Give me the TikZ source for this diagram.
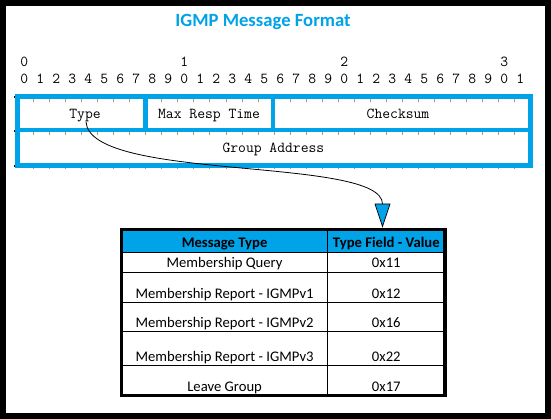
\documentclass[tikz,border=0pt]{standalone}
\usepackage{fontspec}
\setmainfont{Carlito}
\definecolor{igmpblue}{RGB}{0,162,232}
\definecolor{tickcol}{RGB}{190,150,100}
\begin{document}
\begin{tikzpicture}[x=1pt,y=-1pt,
  mono/.style={font=\ttfamily\fontsize{15.2}{17}\selectfont, inner sep=0pt, anchor=base},
  cell/.style={font=\fontsize{14.67}{17}\selectfont, inner sep=0pt, anchor=base},
  headcell/.style={font=\bfseries\fontsize{14.67}{17}\selectfont, inner sep=0pt, anchor=base},
  bluebox/.style={draw=igmpblue, line width=4.7pt},
  bittick/.style={draw=tickcol, line width=1pt},
  gridline/.style={draw=black, line width=1.2pt},
  connector/.style={draw=black, line width=0.8pt}]
\useasboundingbox (0,0) rectangle (551,419);
\fill[white] (0,0) rectangle (551,419);
% outer frame
\draw[line width=6pt] (3,3) rectangle (548,416);
% title
\node[font=\bfseries\fontsize{18.67}{22}\selectfont, text=igmpblue, anchor=base, inner sep=0pt] (title) at (263,27) {IGMP Message Format};
% bit numbers
\node[mono] (dec0) at (24.3,66.7) {0};
\node[mono] (dec1) at (184.3,66.7) {1};
\node[mono] (dec2) at (344.3,66.7) {2};
\node[mono] (dec3) at (504.3,66.7) {3};
\foreach \i in {0,...,31} {
  \pgfmathtruncatemacro\d{mod(\i,10)}
  \node[mono] (bit\i) at (24.3+16*\i,83.3) {\d};
}
% ticks
\foreach \i in {1,...,31} {
  \draw[bittick] (17.5+16.04*\i,99.3) -- ++(0,3);
  \draw[bittick] (17.5+16.04*\i,132.4) -- ++(0,3);
  \draw[bittick] (17.5+16.04*\i,166) -- ++(0,3);
}
\fill (13.5,95.7) rectangle (14.5,97.7);
\fill (13.5,129.7) rectangle (14.5,131.7);
\fill (13.5,165) rectangle (14.5,167);
% header box
\draw[bluebox] (17.5,96.7) rectangle (530.8,165.3);
\draw[bluebox] (17.5,130) -- (530.8,130);
\draw[bluebox] (145.5,96.7) -- (145.5,130);
\draw[bluebox] (273,96.7) -- (273,130);
\node[mono] (type) at (85,118.3) {Type};
\node[mono] (maxresp) at (209,118.3) {Max Resp Time};
\node[mono] (checksum) at (398,118.3) {Checksum};
\node[mono] (group) at (273.4,152.3) {Group Address};
% connector and arrowhead
\coordinate (arrowtop) at (382.5,204);
\draw[connector] ([xshift=1pt]type.south) .. controls (90,182) and (382.5,156) .. (arrowtop);
\filldraw[fill=igmpblue, draw=black, line width=0.7pt] (arrowtop) ++(-7.5,0) -- ++(15,0) -- ++(-7.5,22.5) -- cycle;
% table
\fill[igmpblue] (121.7,229.7) rectangle (445,252.7);
\draw[gridline] (121.7,252.7) -- (445,252.7);
\draw[gridline] (121.7,272.3) -- (445,272.3);
\draw[gridline] (121.7,302.3) -- (445,302.3);
\draw[gridline] (121.7,331.7) -- (445,331.7);
\draw[gridline] (121.7,365.7) -- (445,365.7);
\draw[gridline] (327.5,229.7) -- (327.5,395.7);
\draw[line width=3.3pt] (121.7,229.7) rectangle (445,395.7);
\node[headcell] (hmsg) at (224.6,247.7) {Message Type};
\node[headcell] (hval) at (386.3,247.7) {Type Field - Value};
\node[cell] (m1) at (224.6,268) {Membership Query};
\node[cell] (v1) at (386.3,268) {0x11};
\node[cell] (m2) at (224.6,298.3) {Membership Report - IGMPv1};
\node[cell] (v2) at (386.3,298.3) {0x12};
\node[cell] (m3) at (224.6,327.3) {Membership Report - IGMPv2};
\node[cell] (v3) at (386.3,327.3) {0x16};
\node[cell] (m4) at (224.6,361.7) {Membership Report - IGMPv3};
\node[cell] (v4) at (386.3,361.7) {0x22};
\node[cell] (m5) at (224.6,391) {Leave Group};
\node[cell] (v5) at (386.3,391) {0x17};
\end{tikzpicture}
\end{document}
